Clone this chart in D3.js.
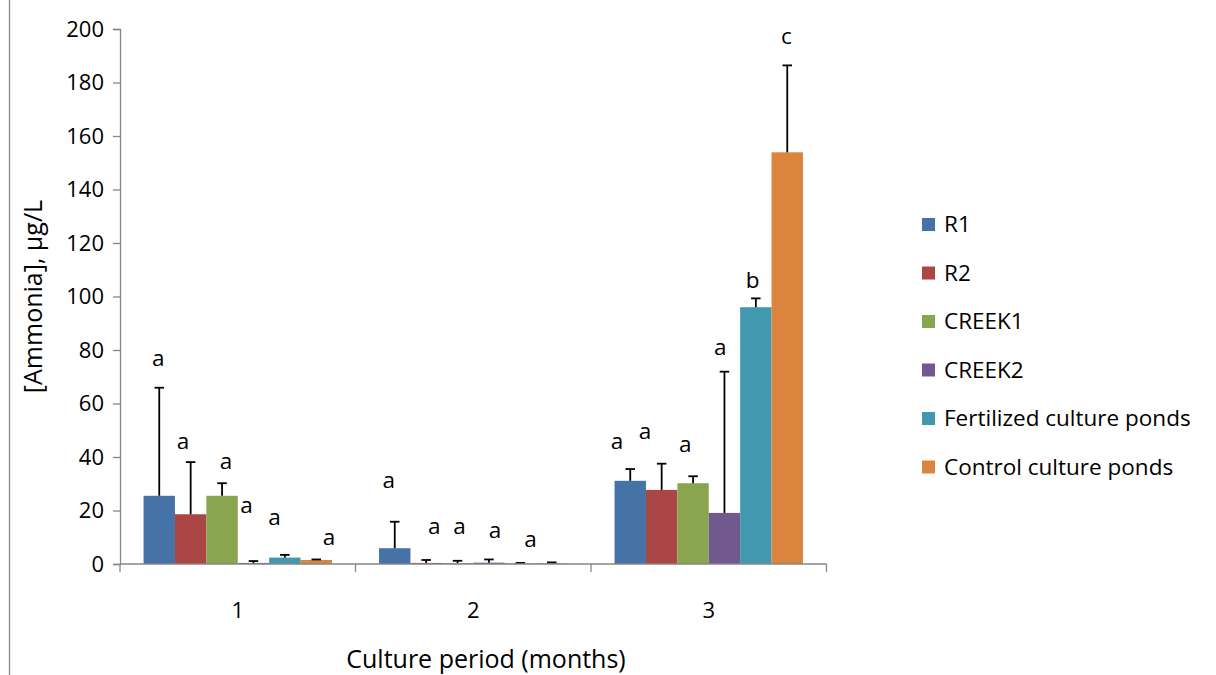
<!DOCTYPE html>
<html><head><meta charset="utf-8">
<script src="https://cdn.jsdelivr.net/npm/d3@7/dist/d3.min.js"></script>
<style>
body{margin:0;background:#fff}
svg{display:block}
text{font-family:"Open Sans",sans-serif;fill:#000}
</style>
</head><body>
<svg id="chart" width="1216" height="675"></svg>
<script>
// ---- data ----
const months = ["1", "2", "3"];
const seriesNames = ["R1", "R2", "CREEK1", "CREEK2", "Fertilized culture ponds", "Control culture ponds"];
const seriesColors = ["#4572A7", "#AA4643", "#89A54E", "#71588F", "#4198AF", "#DB843D"];
const yTicks = [0, 20, 40, 60, 80, 100, 120, 140, 160, 180, 200];

// mean ammonia (µg/L) per month
const r1Mean      = [25.5, 5.9, 31.1];
const r2Mean      = [18.6, 0.4, 27.7];
const creek1Mean  = [25.5, 0.3, 30.2];
const creek2Mean  = [0.4, 0.5, 19.1];
const fertMean    = [2.4, 0.2, 96.0];
const controlMean = [1.5, 0.3, 153.9];

// standard deviation (upper error bar)
const r1Err      = [40.4, 9.9, 4.4];
const r2Err      = [19.5, 1.1, 9.8];
const creek1Err  = [4.7, 0.9, 2.6];
const creek2Err  = [0.7, 1.2, 52.8];
const fertErr    = [1.0, 0.2, 3.3];
const controlErr = [0.2, 0.3, 32.5];

// significance letters, per series per month
const r1Sig      = ["a", "a", "a"];
const r2Sig      = ["a", "a", "a"];
const creek1Sig  = ["a", "a", "a"];
const creek2Sig  = ["a", "a", "a"];
const fertSig    = ["a", "a", "b"];
const controlSig = ["a", "", "c"];

// letter baseline height (value units) and horizontal nudge (fraction of bar width)
const r1SigAt      = [74.0, 28.5, 43.0];
const r2SigAt      = [43.0, 11.1, 46.7];
const creek1SigAt  = [35.5, 11.1, 41.9];
const creek2SigAt  = [19.1, 9.8, 78.1];
const fertSigAt    = [14.6, 6.5, 103.2];
const controlSigAt = [7.1, 0, 194.4];
const r1SigDx      = [-0.03, -0.19, -0.42];
const r2SigDx      = [-0.24, 0.26, -0.53];
const creek1SigDx  = [0.13, 0.06, -0.25];
const creek2SigDx  = [-0.22, 0.19, -0.13];
const fertSigDx    = [-0.33, 0.32, -0.10];
const controlSigDx = [0.41, 0, -0.03];

const means = [r1Mean, r2Mean, creek1Mean, creek2Mean, fertMean, controlMean];
const errs = [r1Err, r2Err, creek1Err, creek2Err, fertErr, controlErr];
const sigs = [r1Sig, r2Sig, creek1Sig, creek2Sig, fertSig, controlSig];
const sigAt = [r1SigAt, r2SigAt, creek1SigAt, creek2SigAt, fertSigAt, controlSigAt];
const sigDx = [r1SigDx, r2SigDx, creek1SigDx, creek2SigDx, fertSigDx, controlSigDx];

const rows = [];
months.forEach((m, mi) => seriesNames.forEach((s, si) => rows.push({
  month: m, series: s, color: seriesColors[si],
  v: means[si][mi], e: errs[si][mi], sig: sigs[si][mi], sigY: sigAt[si][mi], sigDx: sigDx[si][mi]
})));

// ---- layout ----
const svg = d3.select("#chart");
const plotLeft = 120, plotRight = 826.5, plotTop = 29, plotBottom = 564;
const axisColor = "#868686";

// chart frame left edge
svg.append("line").attr("x1", 9.5).attr("x2", 9.5).attr("y1", 0).attr("y2", 675)
  .attr("stroke", axisColor).attr("stroke-width", 1.3);

const x0 = d3.scaleBand().domain(months).range([plotLeft, plotRight]).paddingInner(0).paddingOuter(0);
const x1 = d3.scaleBand().domain(seriesNames).range([0, x0.bandwidth()]).paddingInner(0).paddingOuter(0.75);
const y = d3.scaleLinear().domain([0, 200]).range([plotBottom, plotTop]);

// bars
const g = svg.append("g");
g.selectAll("rect.bar").data(rows).join("rect").attr("class", "bar")
  .attr("x", d => x0(d.month) + x1(d.series))
  .attr("width", x1.bandwidth())
  .attr("y", d => y(d.v))
  .attr("height", d => y(0) - y(d.v))
  .attr("fill", d => d.color);

// error bars (upper only)
const capW = 9.5;
const cx = d => x0(d.month) + x1(d.series) + x1.bandwidth() / 2;
const eg = g.selectAll("g.err").data(rows).join("g").attr("class", "err")
  .attr("stroke", "#000").attr("stroke-width", 1.8);
eg.append("line")
  .attr("x1", cx).attr("x2", cx)
  .attr("y1", d => y(d.v)).attr("y2", d => y(d.v + d.e));
eg.append("line")
  .attr("x1", d => cx(d) - capW / 2)
  .attr("x2", d => cx(d) + capW / 2)
  .attr("y1", d => y(d.v + d.e)).attr("y2", d => y(d.v + d.e));

// significance letters
g.selectAll("text.sig").data(rows.filter(d => d.sig)).join("text").attr("class", "sig")
  .attr("x", d => x0(d.month) + x1(d.series) + x1.bandwidth() * (0.5 + d.sigDx))
  .attr("y", d => y(d.sigY))
  .attr("text-anchor", "middle")
  .style("font-size", "22.5px")
  .text(d => d.sig);

// y axis
const yAxis = svg.append("g").attr("transform", `translate(${plotLeft},0)`)
  .call(d3.axisLeft(y).tickValues(yTicks).tickSize(7).tickSizeOuter(7).tickPadding(9));
yAxis.selectAll("path,line").attr("stroke", axisColor).attr("stroke-width", 1.3);
yAxis.selectAll("text").style("font-size", "22px").attr("fill", "#000");

// x axis
const xa = svg.append("g");
xa.append("line").attr("x1", plotLeft).attr("x2", plotRight).attr("y1", y(0)).attr("y2", y(0))
  .attr("stroke", axisColor).attr("stroke-width", 1.3);
const bounds = months.map(m => x0(m)).concat([plotRight]);
xa.selectAll("line.tk").data(bounds).join("line").attr("class", "tk")
  .attr("x1", d => d).attr("x2", d => d).attr("y1", y(0)).attr("y2", y(0) + 8)
  .attr("stroke", axisColor).attr("stroke-width", 1.3);
xa.selectAll("text.cat").data(months).join("text").attr("class", "cat")
  .attr("x", d => x0(d) + x0.bandwidth() / 2).attr("y", 618)
  .attr("text-anchor", "middle").style("font-size", "22px").text(d => d);

// axis titles
svg.append("text").attr("x", 486).attr("y", 668).attr("text-anchor", "middle")
  .style("font-size", "25px").text("Culture period (months)");
svg.append("text").attr("transform", `translate(42,${(plotTop + plotBottom) / 2}) rotate(-90)`)
  .attr("text-anchor", "middle").style("font-size", "25px").text("[Ammonia], μg/L");

// legend
const lg = svg.append("g");
const items = lg.selectAll("g").data(seriesNames).join("g")
  .attr("transform", (d, i) => `translate(922,${224.5 + i * 48.5})`);
items.append("rect").attr("x", 0).attr("y", -6.5).attr("width", 13).attr("height", 13)
  .attr("fill", (d, i) => seriesColors[i]);
items.append("text").attr("x", 22).attr("y", 0).attr("dy", "0.35em")
  .style("font-size", "22.5px").text(d => d);
</script>
</body></html>
